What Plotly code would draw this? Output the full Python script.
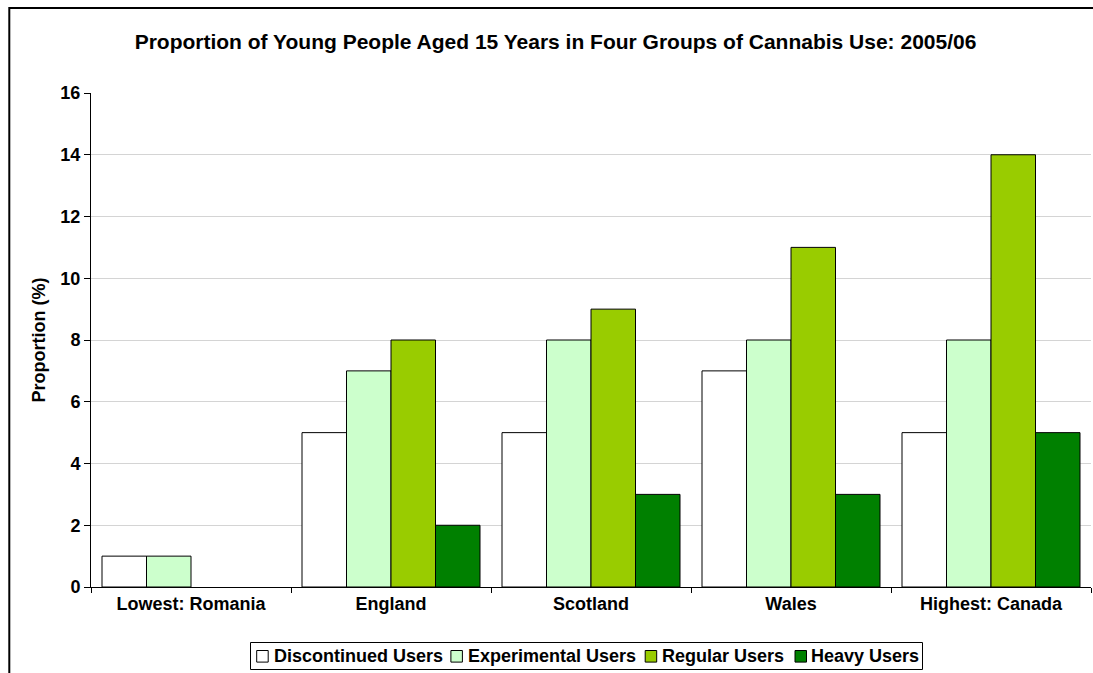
import plotly.graph_objects as go

categories = ["Lowest: Romania", "England", "Scotland", "Wales", "Highest: Canada"]
discontinued = [1, 5, 5, 7, 5]
experimental = [1, 7, 8, 8, 8]
regular = [None, 8, 9, 11, 14]
heavy = [None, 2, 3, 3, 5]

series_names = ["Discontinued Users", "Experimental Users", "Regular Users", "Heavy Users"]
series_values = [discontinued, experimental, regular, heavy]
series_colors = ["#FFFFFF", "#CCFFCC", "#99CC00", "#008000"]

W, H = 1093, 673
L, R, T, B = 91, 2, 93, 86
PW, PH = W - L - R, H - T - B


def px_x(x):
    return (x - L) / PW


def px_y(y):
    return (H - B - y) / PH


fig = go.Figure()
for name, vals, color in zip(series_names, series_values, series_colors):
    fig.add_trace(go.Bar(
        x=categories, y=vals, name=name,
        marker=dict(color=color, line=dict(color="black", width=1)),
    ))

font_family = "Liberation Sans, Arial, sans-serif"

# legend drawn as box + swatches + text (pixel layout of the reference)
legend_swatch_x = [256.7, 450.9, 645.2, 795.0]
legend_text_x = [271.5, 465.5, 659.8, 809.3]
legend_cy = 656.3
shapes = [
    dict(type="rect", xref="paper", yref="paper",
         x0=px_x(9.3), x1=px_x(W + 20), y0=px_y(H + 40), y1=px_y(8.0),
         line=dict(color="black", width=2), fillcolor="rgba(0,0,0,0)", layer="below"),
    dict(type="rect", xref="paper", yref="paper",
         x0=px_x(250.5), x1=px_x(922.5), y0=px_y(669.5), y1=px_y(642.5),
         line=dict(color="black", width=1), fillcolor="white", layer="above"),
]
annotations = []
for name, color, sx, tx in zip(series_names, series_colors, legend_swatch_x, legend_text_x):
    shapes.append(dict(type="rect", xref="paper", yref="paper",
                       x0=px_x(sx), x1=px_x(sx + 11.5),
                       y0=px_y(legend_cy + 5.8), y1=px_y(legend_cy - 5.8),
                       line=dict(color="black", width=1), fillcolor=color, layer="above"))
    annotations.append(dict(text="<b>" + name + "</b>", xref="paper", yref="paper",
                            x=px_x(tx), y=px_y(legend_cy), xanchor="left", yanchor="middle",
                            showarrow=False, font=dict(size=18, family=font_family, color="black")))

fig.update_layout(
    width=W, height=H,
    margin=dict(l=L, r=R, t=T, b=B, autoexpand=False),
    paper_bgcolor="white", plot_bgcolor="white",
    barmode="group", bargap=0.11, bargroupgap=0,
    font=dict(family=font_family, size=18, color="black"),
    title=dict(
        text="<b>Proportion of Young People Aged 15 Years in Four Groups of Cannabis Use: 2005/06</b>",
        x=(131 + 980) / 2 / W, xref="container", xanchor="center", y=1 - 42 / H, yanchor="middle",
        font=dict(size=21, family=font_family),
    ),
    showlegend=False,
    xaxis=dict(
        showline=True, linecolor="black", linewidth=1,
        ticks="outside", ticklen=5, tickcolor="black",
        tickson="boundaries",
        tickfont=dict(size=18, family=font_family),
        tickprefix="<b>", ticksuffix="</b>",
    ),
    yaxis=dict(
        range=[0, 16], dtick=2,
        showline=True, linecolor="black", linewidth=1,
        ticks="outside", ticklen=6, tickcolor="black",
        showgrid=True, gridcolor="#D4D4D4", gridwidth=1,
        tickfont=dict(size=18, family=font_family),
        tickprefix="<b>", ticksuffix="</b>",
        title=dict(text="<b>Proportion (%)</b>", font=dict(size=18, family=font_family), standoff=10),
        zeroline=False,
    ),
    shapes=shapes,
    annotations=annotations,
)

fig.write_html(
    "out.html",
    config={"displayModeBar": False},
    post_script="document.body.style.margin='0';document.body.style.overflow='hidden';",
)
